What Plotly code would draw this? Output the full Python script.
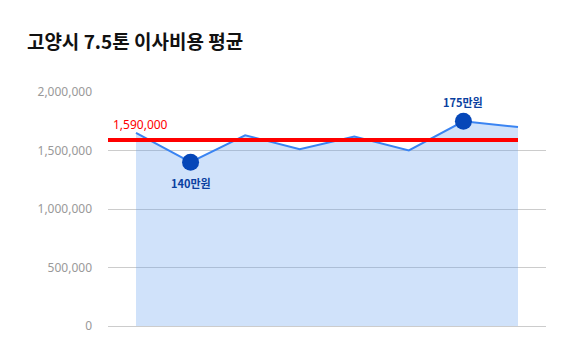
import plotly.graph_objects as go

title = "고양시 7.5톤 이사비용 평균"
idx = [0, 1, 2, 3, 4, 5, 6, 7]
prices = [1650000, 1400000, 1630000, 1510000, 1620000, 1500000, 1750000, 1700000]
average = 1590000
avg_label = "1,590,000"
highlight_idx = [1, 6]
highlight_labels = ["140만원", "175만원"]
highlight_pos = ["bottom center", "top center"]
y_ticks = [0, 500000, 1000000, 1500000, 2000000]
y_ticktext = ["0", "500,000", "1,000,000", "1,500,000", "2,000,000"]

font_main = "Noto Sans CJK KR"
font_num = "Noto Sans"

fig = go.Figure()
fig.add_trace(go.Scatter(
    x=idx, y=prices, mode="lines",
    line=dict(color="#3a84f2", width=2),
    fill="tozeroy", fillcolor="rgba(100,160,240,0.3)",
    hoverinfo="skip", showlegend=False,
))
fig.add_trace(go.Scatter(
    x=[-0.513, idx[-1]], y=[average, average], mode="lines",
    line=dict(color="#ff0000", width=4),
    hoverinfo="skip", showlegend=False,
))
for i, lab, pos, ys in zip(highlight_idx, highlight_labels, highlight_pos, [-21, 19]):
    fig.add_trace(go.Scatter(
        x=[idx[i]], y=[prices[i]], mode="markers",
        marker=dict(color="#0647b8", size=17),
        hoverinfo="skip", showlegend=False,
    ))
    fig.add_annotation(
        x=idx[i], y=prices[i], text=lab, showarrow=False,
        xanchor="center", yanchor="middle", yshift=ys,
        font=dict(family=font_main, size=11, color="#0a3fa0", weight="bold"),
    )
fig.add_annotation(
    x=-0.513, y=average, text=avg_label, showarrow=False,
    xanchor="left", yanchor="bottom", xshift=3, yshift=5,
    font=dict(family=font_num, size=12, color="#ff0000"),
)
fig.update_layout(
    width=585, height=355,
    margin=dict(l=108, r=39, t=92, b=29),
    paper_bgcolor="white", plot_bgcolor="white",
    title=dict(text=title, x=0.046, xanchor="left", y=0.88, yanchor="middle",
               font=dict(family=font_main, size=19, color="#111111", weight="bold")),
    xaxis=dict(range=[-0.513, 7.513], showgrid=False, zeroline=False,
               showticklabels=False, fixedrange=True),
    yaxis=dict(range=[0, 2000000], tickvals=y_ticks, ticktext=y_ticktext,
               showgrid=True, gridcolor="#cccccc", gridwidth=1,
               zeroline=True, zerolinecolor="#cccccc", zerolinewidth=1,
               tickfont=dict(family=font_num, size=12, color="#999999"),
               ticklabelstandoff=15, fixedrange=True),
)
fig.write_html("out.html")
